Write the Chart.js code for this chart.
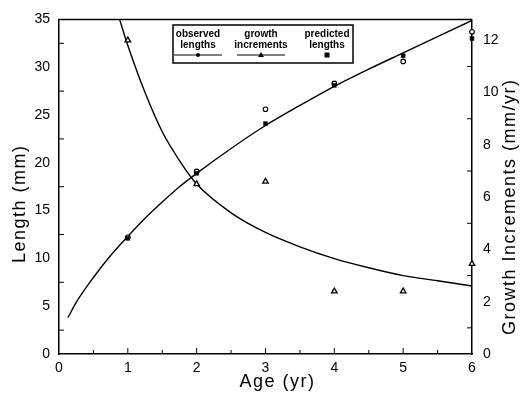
<!DOCTYPE html>
<html>
<head>
<meta charset="utf-8">
<script src="https://cdn.jsdelivr.net/npm/chart.js@4.4.0/dist/chart.umd.min.js"></script>
<style>
  html, body { margin: 0; padding: 0; background: #fff; }
  #wrap { width: 521px; height: 395px; }
</style>
</head>
<body>
<div id="wrap"><canvas id="c" width="521" height="395"></canvas></div>
<script>
// ---- data ----
const ages = [1, 2, 3, 4, 5, 6];
const observedLengths = [12.2, 19.1, 25.6, 28.3, 30.6, 33.7];
const predictedLengths = [12.1, 18.9, 24.1, 28.1, 31.2, 33.0];
const growthIncrements = [12.0, 6.5, 6.6, 2.4, 2.4, 3.45];

const lengthCurveAge = [0.13, 0.25, 0.5, 0.75, 1.0, 1.25, 1.5, 1.75, 2.0, 2.5, 3.0, 3.5, 4.0, 4.5, 5.0, 5.5, 6.0];
const lengthCurveVal = [3.8, 5.4, 8.0, 10.3, 12.3, 14.2, 15.9, 17.5, 18.9, 21.5, 23.9, 26.0, 28.0, 29.8, 31.5, 33.2, 34.9];

const growthCurveAge = [0.88, 1.0, 1.25, 1.5, 1.75, 2.0, 2.5, 3.0, 3.5, 4.0, 4.5, 5.0, 5.5, 6.0];
const growthCurveVal = [12.8, 11.8, 10.0, 8.5, 7.4, 6.5, 5.4, 4.65, 4.1, 3.65, 3.3, 3.0, 2.8, 2.6];

const xTicks = [0, 1, 2, 3, 4, 5, 6];
const yTicks = [0, 5, 10, 15, 20, 25, 30, 35];
const y2Ticks = [0, 2, 4, 6, 8, 10, 12];

const legendItems = [
  { line1: 'observed', line2: 'lengths', marker: 'circle', line: true },
  { line1: 'growth', line2: 'increments', marker: 'triangle', line: true },
  { line1: 'predicted', line2: 'lengths', marker: 'square', line: false }
];

const xTitle = 'Age (yr)';
const yTitle = 'Length (mm)';
const y2Title = 'Growth Increments (mm/yr)';

const pts = (xs, ys) => xs.map((x, i) => ({ x: x, y: ys[i] }));
const FONT = "'Liberation Sans', Arial, sans-serif";

const decorPlugin = {
  id: 'decor',
  afterDraw(chart) {
    const ctx = chart.ctx;
    const a = chart.chartArea;
    const sx = chart.scales.x, sy = chart.scales.y, sy2 = chart.scales.y2;
    ctx.save();
    ctx.strokeStyle = '#000';
    ctx.lineWidth = 1.5;
    ctx.beginPath();
    ctx.moveTo(a.left, a.top); ctx.lineTo(a.right, a.top); ctx.stroke();
    ctx.lineWidth = 1;
    for (let v = 0.5; v < 6; v += 0.5) {
      const px = sx.getPixelForValue(v);
      const len = (v % 1 === 0) ? 6 : 4;
      ctx.beginPath(); ctx.moveTo(px, a.bottom); ctx.lineTo(px, a.bottom - len); ctx.stroke();
    }
    for (let v = 2.5; v < 35; v += 5) {
      const py = sy.getPixelForValue(v);
      ctx.beginPath(); ctx.moveTo(a.left, py); ctx.lineTo(a.left + 5, py); ctx.stroke();
    }
    for (let v = 1; v < 12.8; v += 2) {
      const py = sy2.getPixelForValue(v);
      ctx.beginPath(); ctx.moveTo(a.right, py); ctx.lineTo(a.right - 5, py); ctx.stroke();
    }
    ctx.fillStyle = '#000';
    ctx.font = '18px ' + FONT;
    try { ctx.letterSpacing = '1.5px'; } catch (e) {}
    ctx.textAlign = 'center';
    ctx.textBaseline = 'middle';
    ctx.fillText(xTitle, (a.left + a.right) / 2 + 12, 382);
    ctx.save();
    ctx.translate(20, (a.top + a.bottom) / 2 + 17);
    ctx.rotate(-Math.PI / 2);
    ctx.fillText(yTitle, 0, 0);
    ctx.restore();
    ctx.save();
    ctx.translate(510, (a.top + a.bottom) / 2 + 20);
    ctx.rotate(-Math.PI / 2);
    ctx.fillText(y2Title, 0, 0);
    ctx.restore();
    try { ctx.letterSpacing = '0px'; } catch (e) {}

    const bx = 173, by = 25, bw = 180, bh = 38;
    ctx.lineWidth = 1.5;
    ctx.strokeRect(bx, by, bw, bh);
    ctx.lineWidth = 1;
    ctx.font = 'bold 10px ' + FONT;
    const centers = [bx + 25, bx + 88, bx + 154];
    legendItems.forEach((it, i) => {
      const cx = centers[i];
      ctx.fillText(it.line1, cx, by + 9);
      ctx.fillText(it.line2, cx, by + 20);
      const my = by + 30;
      if (it.line) {
        ctx.beginPath(); ctx.moveTo(cx - 24, my); ctx.lineTo(cx + 24, my); ctx.stroke();
      }
      if (it.marker === 'circle') {
        ctx.beginPath(); ctx.arc(cx, my, 2, 0, Math.PI * 2); ctx.fill();
      } else if (it.marker === 'triangle') {
        ctx.beginPath(); ctx.moveTo(cx, my - 3); ctx.lineTo(cx + 3, my + 2); ctx.lineTo(cx - 3, my + 2); ctx.closePath(); ctx.fill();
      } else {
        ctx.fillRect(cx - 2.5, my - 2.5, 5, 5);
      }
    });
    ctx.restore();
  }
};

new Chart(document.getElementById('c'), {
  data: {
    datasets: [
      {
        type: 'scatter', label: 'predicted lengths', data: pts(ages, predictedLengths),
        yAxisID: 'y', pointStyle: 'rect', pointRadius: 2.8,
        backgroundColor: '#000', borderColor: '#000', borderWidth: 0.5, clip: false
      },
      {
        type: 'scatter', label: 'observed lengths', data: pts(ages, observedLengths),
        yAxisID: 'y', pointStyle: 'circle', pointRadius: 2.3,
        backgroundColor: '#fff', borderColor: '#000', borderWidth: 1.1, clip: false
      },
      {
        type: 'scatter', label: 'growth increments', data: pts(ages, growthIncrements),
        yAxisID: 'y2', pointStyle: 'triangle', pointRadius: 3.2,
        backgroundColor: '#fff', borderColor: '#000', borderWidth: 1.3, clip: false
      },
      {
        type: 'line', label: 'length curve', data: pts(lengthCurveAge, lengthCurveVal),
        yAxisID: 'y', borderColor: '#000', borderWidth: 1.4, pointRadius: 0,
        cubicInterpolationMode: 'monotone', fill: false
      },
      {
        type: 'line', label: 'growth curve', data: pts(growthCurveAge, growthCurveVal),
        yAxisID: 'y2', borderColor: '#000', borderWidth: 1.4, pointRadius: 0,
        cubicInterpolationMode: 'monotone', fill: false
      }
    ]
  },
  options: {
    responsive: false,
    animation: false,
    devicePixelRatio: 1,
    layout: { padding: { top: 13, left: 0, right: 0, bottom: 0 } },
    plugins: { legend: { display: false }, tooltip: { enabled: false } },
    scales: {
      x: {
        type: 'linear', min: 0, max: 6,
        afterBuildTicks: s => { s.ticks = xTicks.map(v => ({ value: v })); },
        afterFit: s => { s.height = 41; },
        grid: { display: false, drawTicks: false },
        border: { display: true, color: '#000', width: 1.5 },
        ticks: { color: '#000', font: { family: FONT, size: 14 }, padding: 6, maxRotation: 0 }
      },
      y: {
        type: 'linear', position: 'left', min: 0, max: 35,
        afterBuildTicks: s => { s.ticks = yTicks.map(v => ({ value: v })); },
        afterFit: s => { s.width = 59; },
        grid: { display: false, drawTicks: false },
        border: { display: true, color: '#000', width: 1.5 },
        ticks: { color: '#000', font: { family: FONT, size: 14 }, padding: 9 }
      },
      y2: {
        type: 'linear', position: 'right', min: 0, max: 12.8,
        afterBuildTicks: s => { s.ticks = y2Ticks.map(v => ({ value: v })); },
        afterFit: s => { s.width = 49; },
        grid: { display: false, drawTicks: false },
        border: { display: true, color: '#000', width: 1.5 },
        ticks: { color: '#000', font: { family: FONT, size: 14 }, padding: 11 }
      }
    }
  },
  plugins: [decorPlugin]
});
</script>
</body>
</html>
